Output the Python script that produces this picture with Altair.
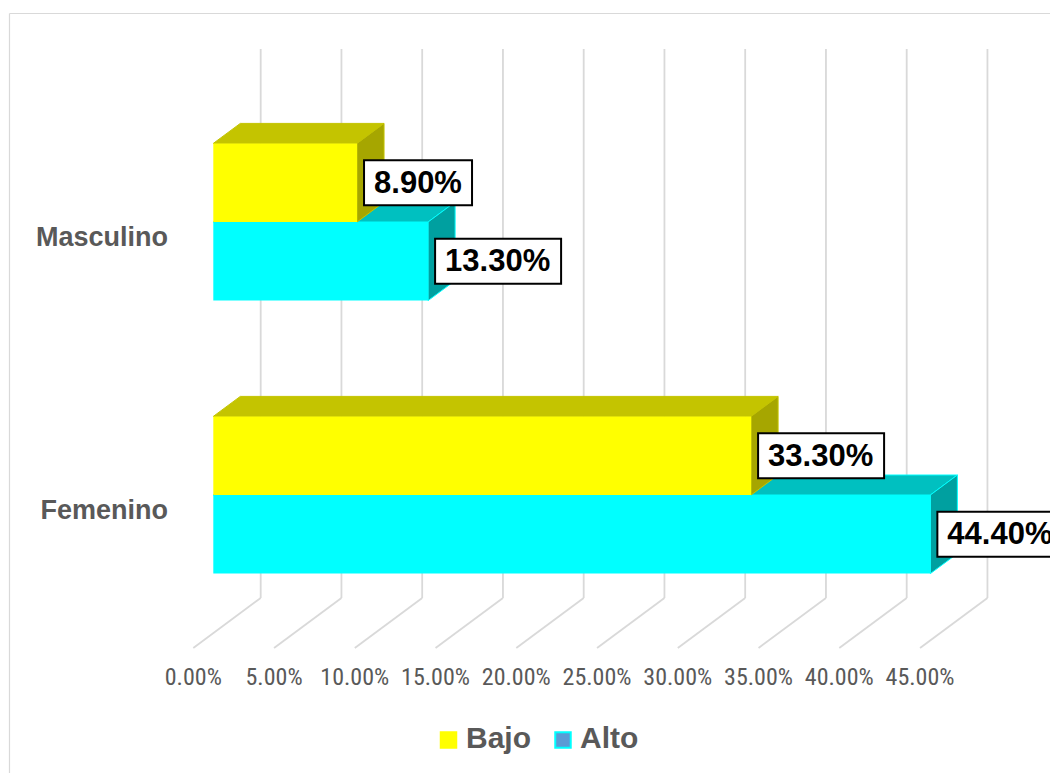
import altair as alt
import pandas as pd

# ---------------- data ----------------
categories = ["Masculino", "Femenino"]
series = ["Alto", "Bajo"]          # drawing order (Alto first, Bajo on top)
bajo_values = [8.9, 33.3]
alto_values = [13.3, 44.4]
bajo_labels = ["8.90%", "33.30%"]
alto_labels = ["13.30%", "44.40%"]
tick_values = [0, 5, 10, 15, 20, 25, 30, 35, 40, 45]
tick_labels = ["0.00%", "5.00%", "10.00%", "15.00%", "20.00%",
               "25.00%", "30.00%", "35.00%", "40.00%", "45.00%"]
legend_names = ["Bajo", "Alto"]

# ---------------- layout / style ----------------
W, H = 1050, 773
X0 = 213.3      # pixel of 0 % on the bar front plane
PPP = 16.15     # pixels per percent
Y0 = 222.0      # pixel of first category's centre line
PPU = 273.0     # pixels per category step

def dxp(px):
    return px / PPP

def dyu(px):
    return px / PPU

BH = dyu(78.6)          # bar thickness (category units)
DX = dxp(27)            # 3D depth offset, x
DY = dyu(20)            # 3D depth offset, y (upwards)
BACK = dxp(47.4)        # back wall offset
FRONT = dxp(-20)        # floor front offset
GRID_TOP = dyu(49 - Y0)
GRID_BOT = dyu(598 - Y0)
FLOOR_FRONT = dyu(648 - Y0)
TICK_Y = dyu(678 - Y0)
CAT_LABEL_X = dxp(168 - X0)
CAT_LABEL_DY = dyu(15.5)

colors = {
    "Bajo": {"front": "#FFFF00", "top": "#C4C400", "side": "#A6A600", "edge": "#C4C400"},
    "Alto": {"front": "#00FFFF", "top": "#00C0C0", "side": "#00A0A0", "edge": "#00FFFF"},
}
TEXT_GRAY = "#595959"
GRID = "#D9D9D9"
BOLD_FONT = "Liberation Sans, Arial, sans-serif"
NARROW_FONT = "Liberation Sans Narrow, Arial Narrow, Roboto Condensed, sans-serif"

xscale = alt.Scale(domain=[(0 - X0) / PPP, (W - X0) / PPP], nice=False, zero=False)
yscale = alt.Scale(domain=[(0 - Y0) / PPU, (H - Y0) / PPU], nice=False, zero=False, reverse=True)

# ---------------- tables built from the arrays ----------------
bars = []
for i, cat in enumerate(categories):
    for s, vals, labs in (("Bajo", bajo_values, bajo_labels), ("Alto", alto_values, alto_labels)):
        if s == "Bajo":
            ytop, ybot = i - BH, i
        else:
            ytop, ybot = i, i + BH
        bars.append(dict(cat=cat, series=s, v=vals[i], label=labs[i], ytop=ytop, ybot=ybot,
                         id=f"{cat}-{s}"))
bars_df = pd.DataFrame(bars)

top_rows, side_rows = [], []
for b in bars:
    top_rows.append(dict(id=b["id"], series=b["series"], y=b["ytop"], x=0.0, x2=b["v"]))
    top_rows.append(dict(id=b["id"], series=b["series"], y=b["ytop"] - DY, x=DX, x2=b["v"] + DX))
    side_rows.append(dict(id=b["id"], series=b["series"], x=b["v"], y=b["ytop"], y2=b["ybot"]))
    side_rows.append(dict(id=b["id"], series=b["series"], x=b["v"] + DX,
                          y=b["ytop"] - DY, y2=b["ybot"] - DY))
top_df = pd.DataFrame(top_rows)
side_df = pd.DataFrame(side_rows)

label_df = bars_df.copy()
label_df["bx"] = label_df["v"] + dxp(7)
label_df["bx2"] = label_df["bx"] + label_df["label"].str.len().add(1).mul(18).div(PPP)
label_df["ym"] = (label_df["ytop"] + label_df["ybot"]) / 2
label_df["by"] = label_df["ym"] - dyu(22.5)
label_df["by2"] = label_df["ym"] + dyu(22.5)

grid_df = pd.DataFrame(dict(t=tick_values, label=tick_labels))
grid_df["xb"] = grid_df["t"] + BACK
grid_df["xf"] = grid_df["t"] + FRONT
grid_df["ytop"] = GRID_TOP
grid_df["ybot"] = GRID_BOT
grid_df["yfront"] = FLOOR_FRONT
grid_df["ylab"] = TICK_Y

cat_df = pd.DataFrame(dict(cat=categories, pos=list(range(len(categories)))))
cat_df["x"] = CAT_LABEL_X
cat_df["y"] = cat_df["pos"] + CAT_LABEL_DY

X = lambda f: alt.X(f, type="quantitative", scale=xscale, axis=None, stack=None)
X2 = lambda f: alt.X2(f)
Y = lambda f: alt.Y(f, type="quantitative", scale=yscale, axis=None, stack=None)
Y2 = lambda f: alt.Y2(f)

layers = []

# border (top and left)
layers.append(alt.Chart(pd.DataFrame({"a": [0]})).mark_rule(color=GRID, strokeWidth=1.2).encode(
    x=alt.value(9.5), x2=alt.value(W), y=alt.value(13.5), y2=alt.value(13.5)))
layers.append(alt.Chart(pd.DataFrame({"a": [0]})).mark_rule(color=GRID, strokeWidth=1.2).encode(
    x=alt.value(9.5), x2=alt.value(9.5), y=alt.value(13.5), y2=alt.value(H)))

# gridlines: back wall verticals and floor diagonals
layers.append(alt.Chart(grid_df).mark_rule(color=GRID, strokeWidth=1.8).encode(
    x=X("xb"), y=Y("ytop"), y2=Y2("ybot")))
layers.append(alt.Chart(grid_df).mark_rule(color=GRID, strokeWidth=1.8).encode(
    x=X("xb"), x2=X2("xf"), y=Y("ybot"), y2=Y2("yfront")))

# tick labels
layers.append(alt.Chart(grid_df).mark_text(font=NARROW_FONT, fontSize=24, color=TEXT_GRAY,
                                           align="center", baseline="middle").encode(
    x=X("xf"), y=Y("ylab"), text="label:N"))

# 3D bars
for s in series:
    c = colors[s]
    layers.append(alt.Chart(top_df).transform_filter(alt.datum.series == s)
                  .mark_area(orient="horizontal", color=c["top"], stroke=c["edge"], strokeWidth=1,
                             opacity=1)
                  .encode(y=Y("y"), x=X("x"), x2=X2("x2"), detail="id:N"))
    layers.append(alt.Chart(side_df).transform_filter(alt.datum.series == s)
                  .mark_area(orient="vertical", color=c["side"], stroke=c["edge"], strokeWidth=1,
                             opacity=1)
                  .encode(x=X("x"), y=Y("y"), y2=Y2("y2"), detail="id:N"))
    layers.append(alt.Chart(bars_df).transform_filter(alt.datum.series == s)
                  .mark_rect(color=c["front"])
                  .encode(x=X("zero:Q") if False else alt.X("v0:Q", scale=xscale, axis=None),
                          x2=X2("v"), y=Y("ytop"), y2=Y2("ybot"))
                  .transform_calculate(v0="0"))

# category labels
layers.append(alt.Chart(cat_df).mark_text(font=BOLD_FONT, fontWeight="bold", fontSize=27,
                                          color=TEXT_GRAY, align="right", baseline="middle").encode(
    x=X("x"), y=Y("y"), text="cat:N"))

# data labels with boxes
layers.append(alt.Chart(label_df).mark_rect(fill="white", stroke="black", strokeWidth=2).encode(
    x=X("bx"), x2=X2("bx2"), y=Y("by"), y2=Y2("by2")))
layers.append(alt.Chart(label_df).mark_text(font=BOLD_FONT, fontWeight="bold", fontSize=31,
                                            color="black", align="left", baseline="middle", dx=10,
                                            dy=1).encode(
    x=X("bx"), y=Y("ym"), text="label:N"))

# legend (manual, Excel-style)
leg_sq_x = [448.5, 563.0]
leg_tx_x = [466.0, 580.0]
leg_fill = ["#FFFF00", "#5B9BD5"]
leg_stroke = ["#FFFF00", "#00FFFF"]
for name, sx, tx, f, st in zip(legend_names, leg_sq_x, leg_tx_x, leg_fill, leg_stroke):
    one = pd.DataFrame({"name": [name]})
    layers.append(alt.Chart(one).mark_point(shape="square", filled=True, fill=f, stroke=st,
                                            strokeWidth=2, size=240, opacity=1).encode(
        x=alt.value(sx), y=alt.value(740)))
    layers.append(alt.Chart(one).mark_text(font=BOLD_FONT, fontWeight="bold", fontSize=30,
                                           color=TEXT_GRAY, align="left", baseline="middle").encode(
        x=alt.value(tx), y=alt.value(739), text="name:N"))

chart = alt.layer(*layers).properties(
    width=W, height=H, autosize="none", padding=0, background="white"
).configure_view(stroke=None)

chart.save("out.html", embed_options={"renderer": "svg", "actions": False})
